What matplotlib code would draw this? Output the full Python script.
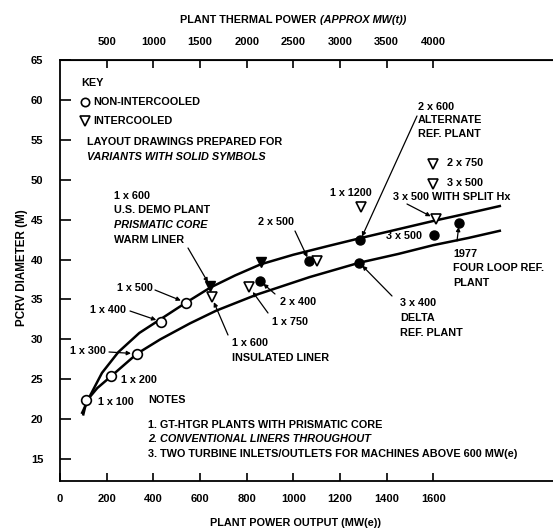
import matplotlib
matplotlib.use('Agg')
import matplotlib.pyplot as plt

plt.rcParams['font.family'] = ['Liberation Sans', 'DejaVu Sans']
plt.rcParams['font.weight'] = 'bold'
plt.rcParams['font.size'] = 7.8

W, H = 553, 529

# the two design curves (MW(e), PCRV diameter m)
upper_x = [95, 130, 180, 250, 340, 435, 540, 645, 750, 860, 1000, 1150, 1290, 1450, 1610, 1750, 1885]
upper_y = [20.8, 23.0, 25.8, 28.4, 30.8, 32.6, 34.6, 36.5, 38.0, 39.4, 40.6, 41.7, 42.7, 43.8, 44.9, 45.8, 46.7]
lower_x = [100, 114, 160, 220, 330, 430, 557, 670, 843, 1070, 1283, 1450, 1600, 1750, 1885]
lower_y = [20.6, 22.3, 23.9, 25.4, 28.2, 30.0, 32.0, 33.6, 35.6, 37.8, 39.6, 40.7, 41.8, 42.7, 43.6]

# non-intercooled plants (open circles)
circ_x = [110, 218, 328, 435, 540]
circ_y = [22.4, 25.4, 28.2, 32.2, 34.6]

# intercooled plants (open triangles)
tri_x = [650, 812, 1100, 1290, 1610, 1600, 1600]
tri_y = [35.3, 36.5, 39.8, 46.6, 45.1, 52.0, 49.5]

# variants with layout drawings (solid symbols)
stri_x = [643, 862]
stri_y = [36.7, 39.7]
sdot_x = [858, 1068, 1287, 1283, 1603, 1711]
sdot_y = [37.3, 39.8, 42.4, 39.6, 43.1, 44.6]

yticks = [15, 20, 25, 30, 35, 40, 45, 50, 55, 60, 65]
xticks = [0, 200, 400, 600, 800, 1000, 1200, 1400, 1600]
tticks = [500, 1000, 1500, 2000, 2500, 3000, 3500, 4000]

fig = plt.figure(figsize=(W / 100, H / 100), dpi=100)
ax = fig.add_axes([60 / W, 1 - 481 / H, 1 - 60 / W, 421 / H])
ax.set_xlim(0, 2113)
ax.set_ylim(12.25, 65.0)

ax.plot(upper_x, upper_y, color='k', lw=1.8, zorder=2)
ax.plot(lower_x, lower_y, color='k', lw=1.8, zorder=2)

ax.plot(circ_x, circ_y, 'o', ms=7, mfc='white', mec='k', mew=1.2, zorder=3)
ax.plot(tri_x, tri_y, 'v', ms=7.5, mfc='white', mec='k', mew=1.2, zorder=3)
ax.plot(stri_x, stri_y, 'v', ms=7.5, mfc='k', mec='k', zorder=3)
ax.plot(sdot_x, sdot_y, 'o', ms=6.5, mfc='k', mec='k', zorder=3)

for s in ['left', 'top', 'bottom']:
    ax.spines[s].set_linewidth(1.3)
ax.spines['right'].set_visible(False)

ax.set_yticks(yticks)
ax.set_xticks(xticks)
ax.tick_params(axis='y', direction='in', length=8, width=1.2, pad=12, labelsize=8)
ax.tick_params(axis='x', direction='in', length=6, width=1.2, pad=9, labelsize=8)

top = ax.secondary_xaxis('top', functions=(lambda v: v * 2.5, lambda v: v / 2.5))
top.set_xticks(tticks)
top.tick_params(direction='in', length=6, width=1.2, pad=9, labelsize=8)


def ft(x, y, s, **kw):
    fig.text(x / W, 1 - y / H, s, va='center', **kw)


def arrow(tail, xy, shrink=0):
    ax.annotate('', xy=xy, xycoords='data',
                xytext=(tail[0] / W, 1 - tail[1] / H), textcoords='figure fraction',
                arrowprops=dict(arrowstyle='-|>', color='k', lw=0.9,
                                mutation_scale=6, shrinkA=0, shrinkB=shrink))


# axis titles
ft(180, 20, 'PLANT THERMAL POWER')
ft(320, 20, '(APPROX MW(t))', style='italic')
ft(295, 523, 'PLANT POWER OUTPUT (MW(e))', ha='center')
ft(22, 268, 'PCRV DIAMETER (M)', ha='center', rotation=90, fontsize=8.4)

# key
ft(81, 83, 'KEY')
ax.plot([85 / W], [1 - 102 / H], 'o', ms=6, mfc='white', mec='k', mew=1.2,
        transform=fig.transFigure, clip_on=False)
ft(93, 102, 'NON-INTERCOOLED')
ax.plot([85 / W], [1 - 121 / H], 'v', ms=6.5, mfc='white', mec='k', mew=1.2,
        transform=fig.transFigure, clip_on=False)
ft(93, 121, 'INTERCOOLED')
ft(87, 142, 'LAYOUT DRAWINGS PREPARED FOR')
ft(87, 157, 'VARIANTS WITH SOLID SYMBOLS', style='italic')

# left group
ft(114, 196, '1 x 600')
ft(114, 210, 'U.S. DEMO PLANT')
ft(114, 225, 'PRISMATIC CORE', style='italic')
ft(114, 240, 'WARM LINER')
arrow((188, 248), (stri_x[0], stri_y[0]), 3)
ft(117, 288, '1 x 500')
arrow((155, 290), (circ_x[4], circ_y[4]), 4)
ft(90, 310, '1 x 400')
arrow((130, 311), (circ_x[3], circ_y[3]), 4)
ft(70, 351, '1 x 300')
arrow((109, 352), (circ_x[2], circ_y[2]), 4)
ft(121, 380, '1 x 200')
ft(98, 402, '1 x 100')

# notes
ft(148, 400, 'NOTES')
ft(148, 425, '1. GT-HTGR PLANTS WITH PRISMATIC CORE')
ft(148, 439, '2. CONVENTIONAL LINERS THROUGHOUT', style='italic')
ft(148, 454, '3. TWO TURBINE INLETS/OUTLETS FOR MACHINES ABOVE 600 MW(e)')

# middle group
ft(232, 343, '1 x 600')
ft(232, 358, 'INSULATED LINER')
arrow((228, 335), (tri_x[0], tri_y[0]), 4)
ft(272, 322, '1 x 750')
arrow((268, 313), (tri_x[1], tri_y[1]), 4)
ft(280, 302, '2 x 400')
arrow((275, 294), (sdot_x[0], sdot_y[0]), 3)
ft(258, 222, '2 x 500')
arrow((295, 231), (sdot_x[1], sdot_y[1]), 3)
ft(330, 193, '1 x 1200')

# right group
ft(418, 107, '2 x 600')
ft(418, 120, 'ALTERNATE')
ft(418, 134, 'REF. PLANT')
arrow((417, 116), (sdot_x[2], sdot_y[2]), 3)
ft(447, 163, '2 x 750')
ft(447, 183, '3 x 500')
ft(393, 197, '3 x 500 WITH SPLIT Hx')
arrow((407, 204), (tri_x[4], tri_y[4]), 4)
ft(386, 236, '3 x 500')
ft(453, 254, '1977')
ft(453, 268, 'FOUR LOOP REF.')
ft(453, 283, 'PLANT')
arrow((457, 241), (sdot_x[5], sdot_y[5]), 3)
ft(400, 303, '3 x 400')
ft(400, 318, 'DELTA')
ft(400, 333, 'REF. PLANT')
arrow((392, 296), (sdot_x[3], sdot_y[3]), 3)

fig.savefig('out.png', dpi=100)
